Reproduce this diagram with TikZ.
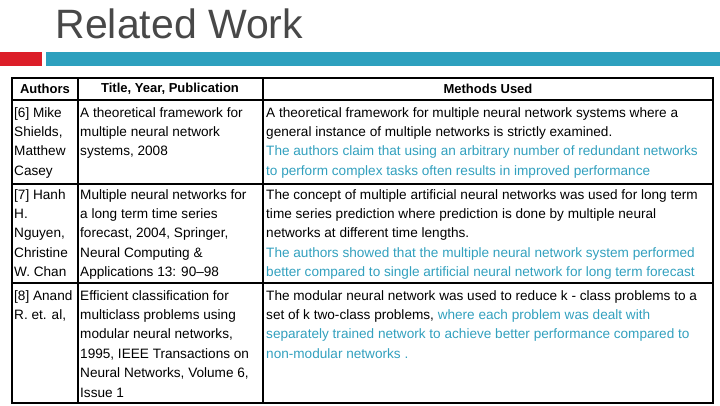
\documentclass[tikz,border=0pt]{standalone}
\usepackage{fontspec}
\setmainfont{Liberation Sans}
\usetikzlibrary{positioning}
\definecolor{titlegray}{RGB}{72,72,72}
\definecolor{barred}{RGB}{220,30,40}
\definecolor{barblue}{RGB}{45,160,190}
\definecolor{noteblue}{RGB}{50,160,190}
\tikzset{
  cell/.style={anchor=north west, align=left, inner sep=0pt, font=\fontsize{13.6}{19.4}\selectfont},
  head/.style={anchor=center, font=\fontsize{13}{15}\selectfont\bfseries},
  rule/.style={line width=1.2pt}
}
\begin{document}
\begin{tikzpicture}[x=1pt, y=-1pt]
\useasboundingbox (0,0) rectangle (720,405);
\node [anchor=west, text=titlegray, font=\fontsize{41}{44}\selectfont] (title) at (52,24) {Related Work};
\fill [barred] (0,52) rectangle (42,66);
\fill [barblue] (46,52) rectangle (720,66);

% table frame
\draw [rule] (12,78) rectangle (713,403);
\draw [rule] (12,100) -- (713,100);
\draw [rule] (12,184) -- (713,184);
\draw [rule] (12,283) -- (713,283);
\draw [rule] (78,78) -- (78,403);
\draw [rule] (263,78) -- (263,403);

\node [head] (hauth) at (45,89) {Authors};
\node [head] (htitle) at (170,89) {Title, Year, Publication};
\node [head] (hmeth) at (488,89) {Methods Used};

% row 1
\node [cell] (auth1) at (14,107) {[6] Mike\\Shields,\\Matthew\\Casey};
\node [cell] (title1) at (80,107) {A theoretical framework for\\multiple neural network\\systems, 2008};
\node [cell] (meth1) at (266,107) {A theoretical framework for multiple neural network systems where a\\general instance of multiple networks is strictly examined.\\\textcolor{noteblue}{The authors claim that using an arbitrary number of redundant networks}\\\textcolor{noteblue}{to perform complex tasks often results in improved performance}};

% row 2
\node [cell] (auth2) at (14,189) {[7] Hanh\\H.\\Nguyen,\\Christine\\W. Chan};
\node [cell] (title2) at (80,189) {Multiple neural networks for\\a long term time series\\forecast, 2004, Springer,\\Neural Computing \&\\Applications 13: 90--98};
\node [cell] (meth2) at (266,189) {The concept of multiple artificial neural networks was used for long term\\time series prediction where prediction is done by multiple neural\\networks at different time lengths.\\\textcolor{noteblue}{The authors showed that the multiple neural network system performed}\\\textcolor{noteblue}{better compared to single artificial neural network for long term forecast}};

% row 3
\node [cell] (auth3) at (14,290) {[8] Anand\\R. et. al,};
\node [cell] (title3) at (80,290) {Efficient classification for\\multiclass problems using\\modular neural networks,\\1995, IEEE Transactions on\\Neural Networks, Volume 6,\\Issue 1};
\node [cell] (meth3) at (266,290) {The modular neural network was used to reduce k - class problems to a\\set of k two-class problems, \textcolor{noteblue}{where each problem was dealt with}\\\textcolor{noteblue}{separately trained network to achieve better performance compared to}\\\textcolor{noteblue}{non-modular networks .}};
\end{tikzpicture}
\end{document}
